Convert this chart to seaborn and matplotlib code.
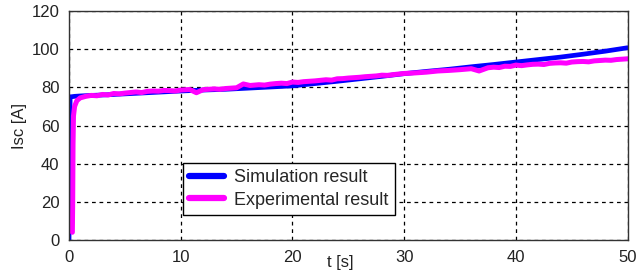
import numpy as np
import pandas as pd
import matplotlib
matplotlib.use('Agg')
import matplotlib.pyplot as plt
import seaborn as sns

# simulation result
sim_t = [0, 0.05, 0.1, 0.5, 1, 2, 3, 5, 7, 9, 10, 12, 14, 16, 18, 20, 22, 24, 26, 28,
         30, 32, 34, 36, 38, 40, 42, 44, 46, 48, 50]
sim_i = [0, 40, 75, 75.3, 75.5, 75.8, 76.0, 76.6, 77.2, 77.8, 78.1, 78.6, 79.0, 79.6,
         80.2, 80.8, 82.0, 83.2, 84.5, 85.8, 87.2, 88.4, 89.5, 90.8, 92.0, 93.3,
         94.6, 95.9, 97.4, 99.0, 100.8]

# experimental result
exp_t = [0.3, 0.33, 0.36, 0.4, 0.5, 0.7, 1, 1.5, 2, 2.5, 3, 3.5, 4, 4.5, 5, 5.5, 6,
         6.5, 7, 7.5, 8, 8.5, 9, 9.5, 10, 10.8, 11.4, 12, 12.5, 13, 13.5, 14, 14.5,
         15, 15.6, 16.2, 17, 17.5, 18, 18.5, 19, 19.5, 20, 20.5, 21, 21.5, 22, 22.5,
         23, 23.5, 24, 24.5, 25, 25.5, 26, 26.5, 27, 27.5, 28, 28.5, 29, 29.5, 30,
         31, 32, 33, 34, 35, 36, 36.7, 37.5, 38, 38.5, 39, 39.5, 40, 40.5, 41, 41.5,
         42, 42.5, 43, 43.5, 44, 44.5, 45, 45.5, 46, 46.5, 47, 47.5, 48, 48.5, 49,
         49.5, 50]
exp_i = [4, 20, 50, 65, 70, 73, 74.5, 75.3, 75.8, 75.6, 76.3, 76.0, 76.8, 76.6, 77.0,
         77.3, 77.6, 77.3, 77.9, 78.1, 78.0, 78.4, 78.3, 78.1, 78.6, 78.9, 77.2,
         78.8, 79.0, 79.2, 79.0, 79.4, 79.6, 79.8, 81.8, 81.0, 81.4, 81.2, 81.7,
         82.0, 82.2, 82.0, 82.8, 82.6, 83.0, 83.2, 83.4, 83.7, 84.0, 83.8, 84.5,
         84.6, 84.9, 85.1, 85.3, 85.6, 85.8, 86.0, 86.4, 86.3, 86.7, 87.0, 87.3,
         87.6, 88.0, 88.6, 88.9, 89.3, 89.8, 88.6, 90.3, 90.6, 90.4, 91.1, 91.0,
         91.7, 91.4, 91.8, 92.1, 92.2, 92.0, 92.6, 92.8, 92.9, 92.7, 93.3, 93.5,
         93.6, 93.4, 93.9, 94.1, 94.3, 94.2, 94.6, 94.8, 95.0]

sim = pd.DataFrame({'t': sim_t, 'I': sim_i})
exp = pd.DataFrame({'t': exp_t, 'I': exp_i})

sns.set_style('white')
plt.rcParams['font.family'] = ['Liberation Sans', 'DejaVu Sans']

fig = plt.figure(figsize=(6.36, 2.78), dpi=100)
ax = fig.add_axes([0.1085, 0.137, 0.8785, 0.823])

sns.lineplot(data=sim, x='t', y='I', ax=ax, color='#0000FF', linewidth=3.4,
             label='Simulation result', estimator=None, sort=False)
sns.lineplot(data=exp, x='t', y='I', ax=ax, color='#FF00FF', linewidth=3.6,
             label='Experimental result', estimator=None, sort=False)

ax.set_xlim(0, 50)
ax.set_ylim(0, 120)
ax.set_xticks([0, 10, 20, 30, 40, 50])
ax.set_yticks([0, 20, 40, 60, 80, 100, 120])
ax.grid(True, color='black', linestyle=(0, (3, 3)), linewidth=0.9)
for s in ax.spines.values():
    s.set_color('#333333')
    s.set_linewidth(1.0)
ax.tick_params(labelsize=12, length=0, pad=7, colors='#222222')

ax.set_xlabel('t [s]', fontsize=12, color='#222222')
ax.xaxis.set_label_coords(0.485, -0.065)
ax.set_ylabel('Isc [A]', fontsize=12, color='#222222')
ax.yaxis.set_label_coords(-0.075, 0.5)

leg = ax.legend(loc='lower left', bbox_to_anchor=(0.204, 0.109), fontsize=13,
                fancybox=False, framealpha=1, edgecolor='black',
                handlelength=1.9, borderpad=0.35, labelspacing=0.3,
                handletextpad=0.6, borderaxespad=0)
leg.get_frame().set_linewidth(1.0)
for line in leg.get_lines():
    line.set_linewidth(4.5)

fig.savefig('out.png', dpi=100)
